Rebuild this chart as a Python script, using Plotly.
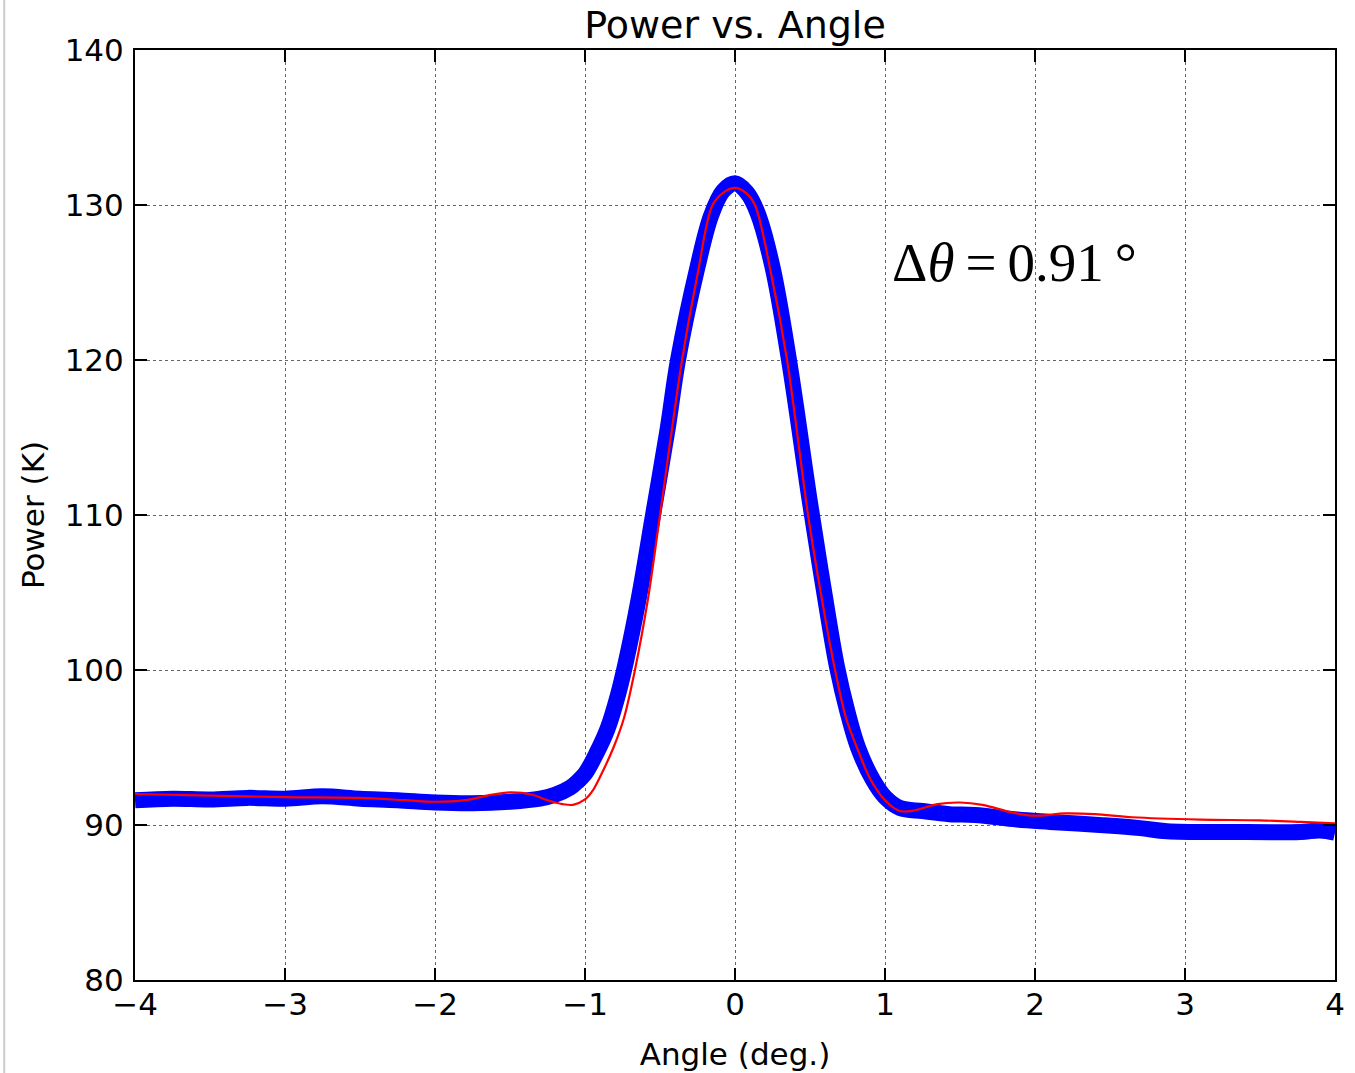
import plotly.graph_objects as go

# Measured data (blue points, read as band centre)
angle_data = [-4.00, -3.75, -3.50, -3.25, -3.00, -2.75, -2.50, -2.25, -2.00, -1.75,
              -1.50, -1.30, -1.20, -1.10, -1.05, -1.00, -0.92, -0.85, -0.78, -0.73,
              -0.64, -0.55, -0.45, -0.38, -0.25, -0.16, -0.08, 0.00, 0.08, 0.15,
              0.25, 0.36, 0.50, 0.59, 0.68, 0.75, 0.82, 0.92, 1.00, 1.10, 1.25,
              1.43, 1.60, 1.88, 2.10, 2.43, 2.70, 2.88, 3.30, 3.77, 3.90, 4.00]
power_data = [91.6, 91.7, 91.65, 91.75, 91.7, 91.85, 91.7, 91.6, 91.45, 91.4,
              91.5, 91.7, 91.95, 92.4, 92.8, 93.3, 94.7, 96.2, 98.4, 100.4,
              104.7, 109.8, 115.5, 120.0, 126.0, 129.3, 130.9, 131.4, 130.8, 129.5,
              126.0, 120.0, 110.8, 105.3, 100.2, 97.3, 95.0, 92.9, 91.8, 91.1, 90.9,
              90.7, 90.65, 90.35, 90.2, 90.0, 89.8, 89.6, 89.55, 89.55, 89.65, 89.5]

# Fitted beam model (red line)
angle_fit = [-4.00, -3.50, -3.00, -2.50, -2.20, -2.00, -1.80, -1.65, -1.50, -1.35,
             -1.25, -1.15, -1.08, -1.00, -0.95, -0.90, -0.81, -0.74, -0.667, -0.58,
             -0.50, -0.353, -0.25, -0.15, -0.07, 0.00, 0.07, 0.133, 0.24, 0.347,
             0.487, 0.575, 0.667, 0.74, 0.813, 0.90, 1.00, 1.10, 1.20, 1.35,
             1.50, 1.65, 1.85, 2.00, 2.20, 2.40, 2.65, 3.10, 3.50, 3.77, 4.00]
power_fit = [92.0, 91.9, 91.8, 91.75, 91.6, 91.5, 91.6, 91.9, 92.1, 91.95,
             91.6, 91.35, 91.3, 91.65, 92.2, 93.1, 95.0, 96.9, 100.0, 104.6,
             110.0, 120.0, 125.5, 130.0, 130.85, 131.1, 130.8, 130.0, 125.6, 120.0,
             110.0, 104.8, 100.0, 96.9, 95.0, 93.0, 91.6, 90.9, 90.95, 91.35,
             91.45, 91.3, 90.8, 90.6, 90.75, 90.7, 90.5, 90.35, 90.3, 90.2, 90.1]

x_ticks = [-4, -3, -2, -1, 0, 1, 2, 3, 4]
y_ticks = [80, 90, 100, 110, 120, 130, 140]

title_text = "Power vs. Angle"
x_label = "Angle (deg.)"
y_label = "Power (K)"
beam_label = "Δ<i>θ</i>\u2009=\u20090.91\u2009°"

font_family = "DejaVu Sans"

fig = go.Figure()
fig.add_trace(go.Scatter(
    x=angle_data, y=power_data, mode="lines", name="data",
    line=dict(color="#0000ff", width=16, shape="spline", smoothing=1.0),
))
fig.add_trace(go.Scatter(
    x=angle_fit, y=power_fit, mode="lines", name="fit",
    line=dict(color="#ff0000", width=2.2, shape="spline", smoothing=0.9),
))

axis_common = dict(
    showline=True, linecolor="black", linewidth=2, mirror="ticks",
    ticks="inside", ticklen=12, tickwidth=1.5, tickcolor="black",
    showgrid=True, gridcolor="#666666", gridwidth=1, griddash="dot",
    zeroline=False, automargin=False,
    tickfont=dict(family=font_family, size=31, color="black"),
)

fig.update_xaxes(range=[-4, 4], tickvals=x_ticks, ticklabelstandoff=-4, **axis_common,
                 title=dict(text=x_label, font=dict(family=font_family, size=31, color="black"),
                            standoff=22))
fig.update_yaxes(range=[80, 140], tickvals=y_ticks, ticklabelstandoff=3, **axis_common,
                 title=dict(text=y_label, font=dict(family=font_family, size=31, color="black"),
                            standoff=11))

fig.add_annotation(
    x=1.03, y=126.3, xref="x", yref="y", text=beam_label, showarrow=False,
    xanchor="left", yanchor="middle",
    font=dict(family="Liberation Serif", size=55, color="black"),
)

# light page border on the left edge
fig.add_shape(type="line", xref="paper", yref="paper",
              x0=-0.109, x1=-0.109, y0=-0.11, y1=1.06,
              line=dict(color="#cccccc", width=2))

fig.update_layout(
    width=1355, height=1073,
    margin=dict(l=135, r=20, t=50, b=93),
    paper_bgcolor="white", plot_bgcolor="white",
    showlegend=False,
    title=dict(text=title_text, x=0.5, xref="paper", xanchor="center",
               y=0.977, yanchor="middle",
               font=dict(family=font_family, size=38, color="black")),
)

fig.write_html("out.html")
